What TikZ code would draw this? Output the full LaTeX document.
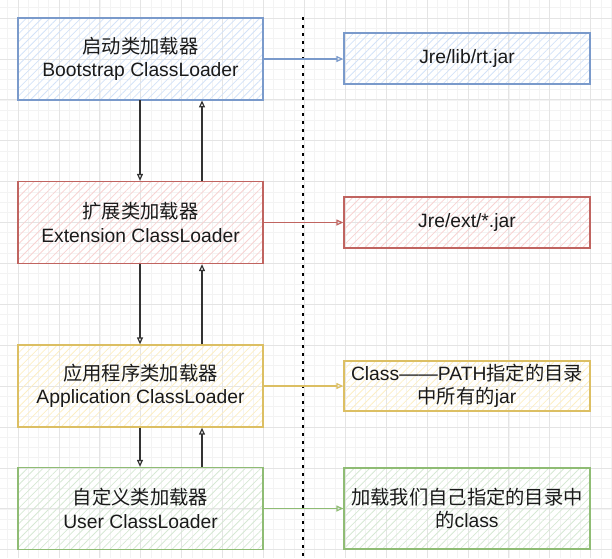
\documentclass[tikz,border=0pt]{standalone}
\usepackage{fontspec}
\setmainfont{Liberation Sans}
\newfontfamily\cjk{Noto Sans CJK SC}
\usetikzlibrary{arrows.meta,patterns.meta}
\definecolor{bluestroke}{HTML}{7A9ACB}
\definecolor{bluefill}{HTML}{D3E2F8}
\definecolor{redstroke}{HTML}{C06460}
\definecolor{redfill}{HTML}{F7D3D2}
\definecolor{yelstroke}{HTML}{DCBF63}
\definecolor{yelfill}{HTML}{FCEEC4}
\definecolor{grnstroke}{HTML}{8FBC74}
\definecolor{grnfill}{HTML}{D6E8D4}
\definecolor{txt}{HTML}{1A1A1A}
\definecolor{minorgrid}{HTML}{F3F3F3}
\definecolor{majorgrid}{HTML}{E4E4E4}
\definecolor{arrowgray}{HTML}{333333}
\begin{document}
\begin{tikzpicture}[x=1pt,y=-1pt,
  loader/.style={draw=#1stroke, line width=1.3pt,
    pattern={Lines[angle=45,distance=5.5pt,line width=0.8pt]}, pattern color=#1fill,
    minimum width=245pt, minimum height=82pt, inner sep=0pt,
    align=center, text=txt, font=\fontsize{19.3}{23.5}\selectfont},
  target/.style={loader=#1, minimum width=246pt, minimum height=51pt},
  flow/.style={draw=#1stroke, line width=1.2pt, -{Triangle[open,length=7pt,width=6pt]}},
  updown/.style={draw=arrowgray, line width=1.2pt, -{Triangle[open,length=7pt,width=6pt]}},
  divider/.style={line width=2.6pt, dash pattern=on 3pt off 5pt}
]
\useasboundingbox (0,0) rectangle (612,558);
% grid
\foreach \k in {-1,...,58} {
  \pgfmathsetmacro\gx{18+\k*10.225}
  \draw[minorgrid, line width=0.6pt] (\gx,0) -- (\gx,558);
}
\foreach \k in {-1,...,52} {
  \pgfmathsetmacro\gy{18+\k*10.225}
  \draw[minorgrid, line width=0.6pt] (0,\gy) -- (612,\gy);
}
\foreach \k in {0,...,14} {
  \pgfmathsetmacro\gx{18+\k*40.9}
  \draw[majorgrid, line width=0.8pt] (\gx,0) -- (\gx,558);
}
\foreach \k in {0,...,13} {
  \pgfmathsetmacro\gy{18+\k*40.9}
  \draw[majorgrid, line width=0.8pt] (0,\gy) -- (612,\gy);
}
% divider
\coordinate (dtop) at (303,17);
\coordinate (dbot) at (303,558);
\draw[divider] (dtop) -- (dbot);
% loaders
\node[loader=blue] (b1) at (140.5,59) {{\cjk 启动类加载器}\\Bootstrap ClassLoader};
\node[loader=red] (b2) at (140.5,222.5) {{\cjk 扩展类加载器}\\Extension ClassLoader};
\node[loader=yel] (b3) at (140.5,386) {{\cjk 应用程序类加载器}\\Application ClassLoader};
\node[loader=grn] (b4) at (140.5,508.5) {{\cjk 自定义类加载器}\\User ClassLoader};
% targets
\node[target=blue] (r1) at (467,58.5) {Jre/lib/rt.jar};
\node[target=red] (r2) at (467,222.5) {Jre/ext/*.jar};
\node[target=yel, minimum height=50pt] (r3) at (467,386) {Class——PATH{\cjk 指定的目录}\\{\cjk 中所有的}jar};
\node[target=grn, minimum height=81pt] (r4) at (467,508.5) {{\cjk 加载我们自己指定的目录中}\\{\cjk 的}class};
% horizontal arrows
\draw[flow=blue] (b1.east) -- (b1.east -| r1.west);
\draw[flow=red] (b2.east) -- (b2.east -| r2.west);
\draw[flow=yel] (b3.east) -- (b3.east -| r3.west);
\draw[flow=grn] (b4.east) -- (b4.east -| r4.west);
% vertical arrows
\foreach \a/\b in {b1/b2,b2/b3,b3/b4} {
  \draw[updown] ([xshift=-0.5pt]\a.south) -- ([xshift=-0.5pt]\b.north);
  \draw[updown] ([xshift=61.5pt]\b.north) -- ([xshift=61.5pt]\a.south);
}
\end{tikzpicture}
\end{document}
